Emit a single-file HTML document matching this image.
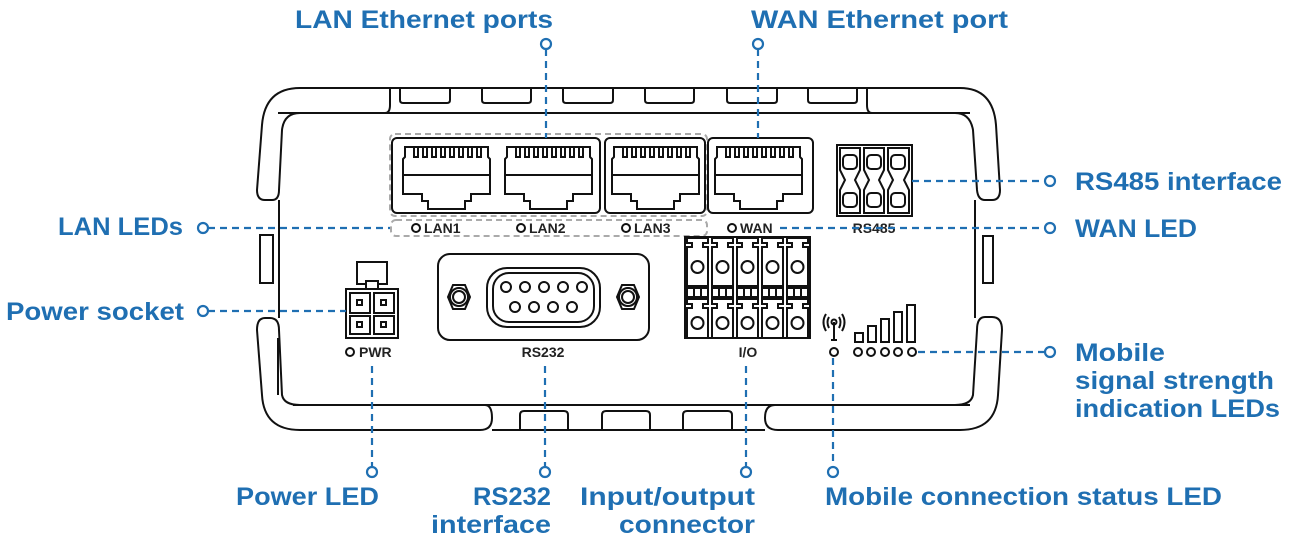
<!DOCTYPE html>
<html><head><meta charset="utf-8"><style>
html,body{margin:0;padding:0;background:#fff;}
svg{display:block}
.t{font-family:"Liberation Sans",sans-serif;font-weight:bold;font-size:25px;fill:#1f6fb2}
.l{font-family:"Liberation Sans",sans-serif;font-weight:bold;font-size:14px;fill:#222}
.d{stroke:#1f6fb2;stroke-width:2.2;stroke-dasharray:7 5;fill:none}
.c{stroke:#1f6fb2;stroke-width:2.2;fill:#fff}
.k{stroke:#111;stroke-width:2;fill:none}
.kf{stroke:#111;stroke-width:2;fill:#fff}
.g{stroke:#aaa;stroke-width:2;stroke-dasharray:6 4;fill:none}
</style></head><body>
<svg width="1292" height="542" viewBox="0 0 1292 542" xmlns="http://www.w3.org/2000/svg">
<defs>
<g id="rj">
<path class="k" d="M2,0 H85 V10 L87,12 V47 H68 V54 H62 V62 H25 V54 H19 V47 H0 V12 L2,10 Z"/>
<line class="k" x1="0" y1="28" x2="87" y2="28"/>
<path class="k" stroke-width="1.6" d="M11,0 V10 H15 V0 M20,0 V10 H24 V0 M29,0 V10 H33 V0 M38,0 V10 H42 V0 M47,0 V10 H51 V0 M56,0 V10 H60 V0 M65,0 V10 H69 V0 M74,0 V10 H78 V0"/>
</g>
<g id="io">
<path class="k" stroke-width="1.6" d="M2,0 H23 V5 H18 V9 H23 V48 H2 V9 H7 V5 H2 Z"/>
<circle class="k" stroke-width="1.6" cx="12.5" cy="29" r="6"/>
<rect class="k" stroke-width="1.6" x="2" y="50" width="21" height="9"/>
<path class="k" stroke-width="1.2" d="M9,50 V59 M16,50 V59"/>
<path class="k" stroke-width="1.6" d="M2,61 H23 V66 H18 V70 H23 V100 H2 V70 H7 V66 H2 Z"/>
<circle class="k" stroke-width="1.6" cx="12.5" cy="85" r="6"/>
</g>
</defs>

<!-- device body -->
<path class="k" d="M390,88 H867 M278,113 H970"/>
<path class="k" d="M293,405 H970 M492,430 H765"/>
<!-- left top bumper -->
<path class="k" d="M390,88 H300 Q265,88 262,125 L257,190 Q257,200 265,200 H272 Q279,200 279,190 L282,130 Q284,113 300,113 H385 Q390,113 390,105 Z"/>
<!-- left inner panel line -->
<path class="k" d="M279,200 V318 M278,338 V395"/>
<rect class="k" x="260" y="235" width="13" height="48"/>
<!-- left bottom bumper -->
<path class="k" d="M265,318 H270 Q279,318 279,330 L282,395 Q284,405 300,405 H485 Q492,405 492,418 Q492,430 480,430 H300 Q264,430 262,395 L257,330 Q257,318 265,318 Z"/>
<!-- right top bumper -->
<path class="k" d="M867,88 H960 Q993,88 996,125 L1000,190 Q1000,200 992,200 H985 Q978,200 977,190 L973,130 Q970,113 955,113 H872 Q867,113 867,105 Z"/>
<path class="k" d="M975,200 V318"/>
<rect class="k" x="983" y="236" width="10" height="47"/>
<!-- right bottom bumper -->
<path class="k" d="M992,317 H985 Q977,317 977,330 L973,395 Q971,405 955,405 H775 Q765,405 765,418 Q765,430 778,430 H960 Q996,430 998,395 L1002,330 Q1002,317 992,317 Z"/>
<!-- top tabs -->
<path class="k" d="M400,88 V100 Q400,103 403,103 H447 Q450,103 450,100 V88 M482,88 V100 Q482,103 485,103 H528 Q531,103 531,100 V88 M563,88 V100 Q563,103 566,103 H610 Q613,103 613,100 V88 M645,88 V100 Q645,103 648,103 H691 Q694,103 694,100 V88 M727,88 V100 Q727,103 730,103 H774 Q777,103 777,100 V88 M808,88 V100 Q808,103 811,103 H854 Q857,103 857,100 V88"/>
<!-- bottom tabs -->
<path class="k" d="M520,430 V415 Q520,411 524,411 H564 Q568,411 568,415 V430 M602,430 V415 Q602,411 606,411 H646 Q650,411 650,415 V430 M683,430 V415 Q683,411 687,411 H728 Q732,411 732,415 V430"/>

<!-- LAN dashed group -->
<rect class="g" x="390" y="134" width="317" height="82" rx="5"/>
<rect class="g" x="391" y="220" width="316" height="16" rx="5"/>
<!-- port boxes -->
<rect class="kf" x="392" y="138" width="208" height="75" rx="5"/>
<rect class="kf" x="605" y="138" width="100" height="75" rx="5"/>
<rect class="kf" x="708" y="138" width="105" height="75" rx="5"/>
<use href="#rj" x="403" y="147"/>
<use href="#rj" x="505" y="147"/>
<use href="#rj" x="612" y="147"/>
<use href="#rj" x="715" y="147"/>
<g class="k" stroke-width="1.6">
<circle cx="416" cy="228" r="4"/><circle cx="521" cy="228" r="4"/><circle cx="626" cy="228" r="4"/><circle cx="732" cy="228" r="4"/>
</g>
<text class="l" x="424" y="233">LAN1</text>
<text class="l" x="529" y="233">LAN2</text>
<text class="l" x="634" y="233">LAN3</text>
<text class="l" x="740" y="233">WAN</text>

<!-- RS485 -->
<rect class="kf" x="837" y="145" width="75" height="71"/>
<g class="k" stroke-width="1.6">
<path d="M840,148 H860 V170 L855,180 L860,190 V213 H840 V190 L845,180 L840,170 Z"/>
<path d="M864,148 H884 V170 L879,180 L884,190 V213 H864 V190 L869,180 L864,170 Z"/>
<path d="M888,148 H909 V170 L904,180 L909,190 V213 H888 V190 L893,180 L888,170 Z"/>
<rect x="843" y="155" width="14" height="14" rx="4"/><rect x="867" y="155" width="14" height="14" rx="4"/><rect x="891" y="155" width="14" height="14" rx="4"/>
<rect x="843" y="193" width="14" height="14" rx="4"/><rect x="867" y="193" width="14" height="14" rx="4"/><rect x="891" y="193" width="14" height="14" rx="4"/>
</g>
<text class="l" x="874" y="233" text-anchor="middle" font-size="13">RS485</text>

<!-- PWR -->
<rect class="k" x="357" y="262" width="30" height="22"/>
<rect class="kf" x="366" y="281" width="12" height="8"/>
<rect class="kf" x="346" y="289" width="52" height="49"/>
<g class="k" stroke-width="1.6">
<rect x="350" y="293" width="20" height="20"/><rect x="374" y="293" width="20" height="20"/>
<rect x="350" y="316" width="20" height="18"/><rect x="374" y="316" width="20" height="18"/>
<rect x="357" y="300" width="5" height="5"/><rect x="381" y="300" width="5" height="5"/>
<rect x="357" y="322" width="5" height="5"/><rect x="381" y="322" width="5" height="5"/>
</g>
<circle class="k" stroke-width="1.6" cx="350" cy="352" r="4"/>
<text class="l" x="359" y="357">PWR</text>

<!-- RS232 -->
<rect class="kf" x="438" y="254" width="211" height="86" rx="12"/>
<rect class="k" x="487" y="268" width="113" height="59" rx="20"/>
<rect class="k" x="493" y="273" width="101" height="49" rx="16" stroke-width="1.6"/>
<g class="k" stroke-width="1.6">
<polygon points="448,297 453,285 465,285 470,297 465,309 453,309"/><circle cx="459" cy="297" r="9"/><circle cx="459" cy="297" r="6"/>
<polygon points="617,297 622,285 634,285 639,297 634,309 622,309"/><circle cx="628" cy="297" r="9"/><circle cx="628" cy="297" r="6"/>
<circle cx="506" cy="287" r="5"/><circle cx="525" cy="287" r="5"/><circle cx="544" cy="287" r="5"/><circle cx="563" cy="287" r="5"/><circle cx="582" cy="287" r="5"/>
<circle cx="515" cy="307" r="5"/><circle cx="534" cy="307" r="5"/><circle cx="553" cy="307" r="5"/><circle cx="572" cy="307" r="5"/>
</g>
<text class="l" x="543" y="357" text-anchor="middle">RS232</text>

<!-- I/O -->
<rect class="kf" x="685" y="237" width="125" height="101"/>
<use href="#io" x="685" y="238"/><use href="#io" x="710" y="238"/><use href="#io" x="735" y="238"/><use href="#io" x="760" y="238"/><use href="#io" x="785" y="238"/>
<text class="l" x="748" y="357" text-anchor="middle">I/O</text>

<!-- antenna + signal -->
<g class="k" stroke-width="1.6">
<path d="M834,322 V340 M831,340 H837"/><circle cx="834" cy="322" r="2.5"/>
<path d="M829,317 Q826,322 829,328 M839,317 Q842,322 839,328 M826,314 Q821,322 826,331 M842,314 Q847,322 842,331"/>
<circle cx="834" cy="352" r="4"/>
<rect x="855" y="333" width="8" height="9"/><rect x="868" y="326" width="8" height="16"/><rect x="881" y="319" width="8" height="23"/><rect x="894" y="312" width="8" height="30"/><rect x="907" y="305" width="8" height="37"/>
<circle cx="858" cy="352" r="4"/><circle cx="871" cy="352" r="4"/><circle cx="885" cy="352" r="4"/><circle cx="898" cy="352" r="4"/><circle cx="912" cy="352" r="4"/>
</g>

<!-- leaders -->
<path class="d" d="M546,49 V138 M758,49 V138 M912,181 H1045 M780,228 H1045 M918,352 H1045 M208,228 H390 M208,311 H346 M372,366 V467 M545,366 V467 M746,366 V467 M833,358 V467"/>
<g class="c">
<circle cx="546" cy="44" r="5"/><circle cx="758" cy="44" r="5"/>
<circle cx="1050" cy="181" r="5"/><circle cx="1050" cy="228" r="5"/><circle cx="1050" cy="352" r="5"/>
<circle cx="203" cy="228" r="5"/><circle cx="203" cy="311" r="5"/>
<circle cx="372" cy="472" r="5"/><circle cx="545" cy="472" r="5"/><circle cx="746" cy="472" r="5"/><circle cx="833" cy="472" r="5"/>
</g>

<!-- labels -->
<text class="t" x="295" y="28" textLength="258" lengthAdjust="spacingAndGlyphs">LAN Ethernet ports</text>
<text class="t" x="751" y="28" textLength="257" lengthAdjust="spacingAndGlyphs">WAN Ethernet port</text>
<text class="t" x="1075" y="190" textLength="207" lengthAdjust="spacingAndGlyphs">RS485 interface</text>
<text class="t" x="1075" y="237" textLength="122" lengthAdjust="spacingAndGlyphs">WAN LED</text>
<text class="t" x="1075" y="361" textLength="90" lengthAdjust="spacingAndGlyphs">Mobile</text>
<text class="t" x="1075" y="389" textLength="199" lengthAdjust="spacingAndGlyphs">signal strength</text>
<text class="t" x="1075" y="417" textLength="205" lengthAdjust="spacingAndGlyphs">indication LEDs</text>
<text class="t" x="58" y="235" textLength="125" lengthAdjust="spacingAndGlyphs">LAN LEDs</text>
<text class="t" x="6" y="320" textLength="178" lengthAdjust="spacingAndGlyphs">Power socket</text>
<text class="t" x="236" y="505" textLength="143" lengthAdjust="spacingAndGlyphs">Power LED</text>
<text class="t" x="473" y="505" textLength="78" lengthAdjust="spacingAndGlyphs">RS232</text>
<text class="t" x="431" y="533" textLength="120" lengthAdjust="spacingAndGlyphs">interface</text>
<text class="t" x="580" y="505" textLength="175" lengthAdjust="spacingAndGlyphs">Input/output</text>
<text class="t" x="619" y="533" textLength="136" lengthAdjust="spacingAndGlyphs">connector</text>
<text class="t" x="825" y="505" textLength="397" lengthAdjust="spacingAndGlyphs">Mobile connection status LED</text>
</svg>
</body></html>
